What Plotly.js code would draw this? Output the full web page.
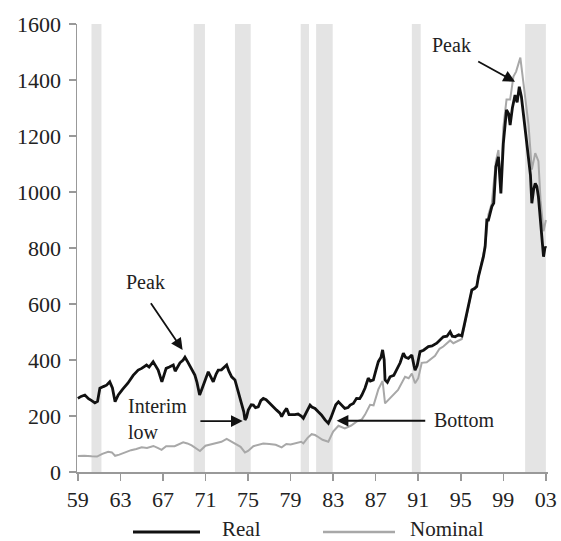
<!DOCTYPE html>
<html>
<head>
<meta charset="utf-8">
<script src="https://cdn.plot.ly/plotly-3.0.1.min.js"></script>
<style>html,body{margin:0;padding:0;background:#fff;}#chart{width:561px;height:541px;}</style>
</head>
<body>
<div id="chart"></div>
<script>
// Real S&P index (decimal year, value)
var realYears = [1959.0,1959.3,1959.66,1960.0,1960.3,1960.6,1960.85,1961.07,1961.4,1961.7,1962.0,1962.25,1962.5,1962.8,1963.2,1963.7,1964.2,1964.67,1965.0,1965.46,1965.7,1966.08,1966.3,1966.55,1966.9,1967.1,1967.3,1967.6,1967.97,1968.15,1968.28,1968.6,1968.9,1969.07,1969.3,1969.5,1969.7,1970.0,1970.2,1970.45,1970.7,1971.0,1971.26,1971.5,1971.73,1972.0,1972.2,1972.5,1972.8,1972.99,1973.2,1973.46,1973.77,1974.0,1974.4,1974.6,1974.71,1974.85,1975.02,1975.3,1975.5,1975.7,1975.96,1976.2,1976.43,1976.7,1977.06,1977.3,1977.69,1978.0,1978.16,1978.4,1978.63,1978.85,1979.1,1979.4,1979.7,1980.0,1980.2,1980.5,1980.83,1981.0,1981.3,1981.6,1981.9,1982.24,1982.55,1982.8,1983.0,1983.25,1983.5,1983.8,1984.1,1984.4,1984.6,1984.9,1985.2,1985.5,1985.7,1986.0,1986.3,1986.5,1986.78,1987.0,1987.25,1987.5,1987.65,1987.8,1987.88,1988.1,1988.35,1988.7,1988.98,1989.3,1989.6,1989.8,1990.07,1990.4,1990.6,1990.7,1990.9,1991.17,1991.5,1991.95,1992.3,1992.74,1993.0,1993.36,1993.7,1994.0,1994.2,1994.47,1994.8,1995.1,1995.3,1995.57,1995.8,1996.04,1996.3,1996.5,1996.66,1996.98,1997.13,1997.29,1997.45,1997.6,1997.92,1998.1,1998.3,1998.54,1998.7,1998.77,1999.0,1999.3,1999.5,1999.64,1999.85,2000.1,2000.3,2000.5,2000.7,2000.9,2001.1,2001.37,2001.55,2001.68,2001.85,2002.0,2002.15,2002.3,2002.5,2002.62,2002.78,2002.93,2003.0];
var realValues = [263,270,275,262,255,247,252,299,305,310,322,300,251,275,295,317,345,364,370,382,375,394,380,364,322,345,370,375,382,360,370,390,400,410,395,382,365,346,320,275,300,335,358,340,322,350,364,365,375,382,360,340,329,300,245,215,186,195,221,240,239,230,233,255,263,258,245,235,221,210,198,215,227,205,204,205,207,200,192,215,239,232,227,215,204,186,174,195,215,240,251,240,227,230,239,245,263,262,275,300,335,325,329,360,394,410,436,400,329,320,340,345,364,390,424,410,406,418,380,364,380,430,435,448,450,460,470,483,485,501,485,483,490,486,520,567,610,650,655,662,698,745,769,805,900,900,948,960,1090,1126,1050,995,1174,1293,1280,1239,1300,1346,1320,1376,1340,1269,1200,1126,1060,960,1010,1031,1020,983,880,817,769,805,800];

// Nominal S&P index (decimal year, value)
var nominalYears = [1959.0,1959.6,1960.3,1960.8,1961.3,1961.85,1962.2,1962.5,1962.9,1963.4,1964.0,1964.5,1965.0,1965.5,1966.1,1966.5,1966.87,1967.3,1968.1,1968.9,1969.3,1969.7,1970.0,1970.48,1971.0,1971.57,1972.0,1972.5,1972.99,1973.5,1973.9,1974.3,1974.71,1975.0,1975.5,1976.0,1976.43,1977.0,1977.6,1978.16,1978.6,1979.0,1979.4,1980.0,1980.2,1980.6,1980.98,1981.3,1981.6,1982.0,1982.55,1983.0,1983.5,1984.1,1984.7,1985.2,1985.7,1986.0,1986.47,1986.8,1987.25,1987.65,1987.88,1988.2,1988.5,1989.1,1989.76,1990.1,1990.4,1990.7,1991.0,1991.33,1991.8,1992.58,1993.0,1993.36,1994.0,1994.3,1995.1,1995.57,1996.04,1996.5,1996.98,1997.3,1997.6,1997.92,1998.3,1998.54,1998.77,1999.0,1999.3,1999.64,1999.95,2000.2,2000.6,2000.9,2001.1,2001.37,2001.68,2002.0,2002.3,2002.5,2002.78,2003.0];
var nominalValues = [57,58,56,55,65,72,70,58,62,70,78,82,88,86,93,86,79,92,92,106,102,95,88,75,94,100,103,108,118,108,98,90,70,75,92,98,102,100,97,88,100,98,101,108,102,122,135,132,125,115,108,144,165,156,166,180,188,205,240,238,295,325,245,258,268,293,340,335,352,317,335,390,392,415,440,448,470,460,475,560,650,665,745,810,920,960,1110,1150,1020,1230,1330,1330,1412,1430,1480,1380,1330,1240,1080,1139,1110,970,860,900];

// Shaded periods (start, end)
var bandStarts = [1960.28,1969.9,1973.77,1979.95,1981.4,1990.4,2001.05];
var bandEnds   = [1961.22,1970.95,1975.25,1980.73,1982.96,1991.23,2003.0];

// X tick labels
var tickYears = [1959,1963,1967,1971,1975,1979,1983,1987,1991,1995,1999,2003];
var tickLabels = ["59","63","67","71","75","79","83","87","91","95","99","03"];

var seriesNames = ["Real","Nominal"];

var FONT = "Liberation Serif, Times New Roman, serif";
var TXT = "#222";

var legY = -(529 - 472) / 448;
var shapes = [];
for (var i = 0; i < bandStarts.length; i++) {
  shapes.push({type:'rect', xref:'x', yref:'y', x0:bandStarts[i], x1:bandEnds[i], y0:0, y1:1600,
    fillcolor:'#e4e4e4', line:{width:0}, layer:'below'});
}
// manual legend line samples (paper coords)
shapes.push({type:'line', xref:'paper', yref:'paper', x0:(133-77)/471, x1:(200-77)/471, y0:-(532-472)/448, y1:-(532-472)/448,
  line:{color:'#111', width:3}});
shapes.push({type:'line', xref:'paper', yref:'paper', x0:(323-77)/471, x1:(395-77)/471, y0:-(532-472)/448, y1:-(532-472)/448,
  line:{color:'#a8a8a8', width:2.5}});

var annotations = [
  {x:1965.4, y:679, text:'Peak', showarrow:false, font:{family:FONT, size:20, color:TXT}},
  {x:1968.85, y:436, ax:1965.77, ay:608, xref:'x', yref:'y', axref:'x', ayref:'y', text:'', showarrow:true,
    arrowhead:2, arrowsize:1.3, arrowwidth:1.8, arrowcolor:'#111'},
  {x:1963.5, y:189, text:'Interim<br>low', xanchor:'left', align:'left', showarrow:false, font:{family:FONT, size:20, color:TXT}},
  {x:1974.5, y:182, ax:1970.38, ay:182, xref:'x', yref:'y', axref:'x', ayref:'y', text:'', showarrow:true,
    arrowhead:2, arrowsize:1.3, arrowwidth:1.8, arrowcolor:'#111'},
  {x:1992.3, y:186, text:'Bottom', xanchor:'left', showarrow:false, font:{family:FONT, size:20, color:TXT}},
  {x:1983.33, y:183, ax:1991.8, ay:183, xref:'x', yref:'y', axref:'x', ayref:'y', text:'', showarrow:true,
    arrowhead:2, arrowsize:1.3, arrowwidth:1.8, arrowcolor:'#111'},
  {x:1994.1, y:1525, text:'Peak', showarrow:false, font:{family:FONT, size:20, color:TXT}},
  {x:2000.1, y:1394, ax:1996.5, ay:1469, xref:'x', yref:'y', axref:'x', ayref:'y', text:'', showarrow:true,
    arrowhead:2, arrowsize:1.3, arrowwidth:1.8, arrowcolor:'#111'},
  // manual legend labels
  {xref:'paper', yref:'paper', x:(221-77)/471, y:legY, xanchor:'left', yanchor:'middle', text:seriesNames[0], showarrow:false, borderpad:0, font:{family:FONT, size:21, color:TXT}},
  {xref:'paper', yref:'paper', x:(409-77)/471, y:legY, xanchor:'left', yanchor:'middle', text:seriesNames[1], showarrow:false, borderpad:0, font:{family:FONT, size:21, color:TXT}}
];

var traces = [
  {x:nominalYears, y:nominalValues, type:'scatter', mode:'lines', name:seriesNames[1],
    line:{color:'#a8a8a8', width:2}},
  {x:realYears, y:realValues, type:'scatter', mode:'lines', name:seriesNames[0],
    line:{color:'#111', width:2.8}}
];

var layout = {
  width:561, height:541,
  margin:{l:77, r:13, t:24, b:69},
  paper_bgcolor:'#fff', plot_bgcolor:'#fff',
  showlegend:false,
  font:{family:FONT, size:22, color:TXT},
  xaxis:{range:[1958.92, 2003.2], tickvals:tickYears, ticktext:tickLabels, ticks:'outside', ticklen:7,
    tickcolor:'#999', tickwidth:1.5, showline:true, linecolor:'#999', linewidth:1.5, showgrid:false, zeroline:false,
    tickfont:{family:FONT, size:22, color:TXT}, fixedrange:true},
  yaxis:{range:[0,1600], dtick:200, ticks:'outside', ticklen:7, tickcolor:'#999', tickwidth:1.5,
    showline:true, linecolor:'#999', linewidth:1.5, showgrid:false, zeroline:false,
    tickfont:{family:FONT, size:22, color:TXT}, ticklabelstandoff:3, fixedrange:true},
  shapes:shapes,
  annotations:annotations
};

Plotly.newPlot('chart', traces, layout, {displayModeBar:false, staticPlot:true});
</script>
</body>
</html>
